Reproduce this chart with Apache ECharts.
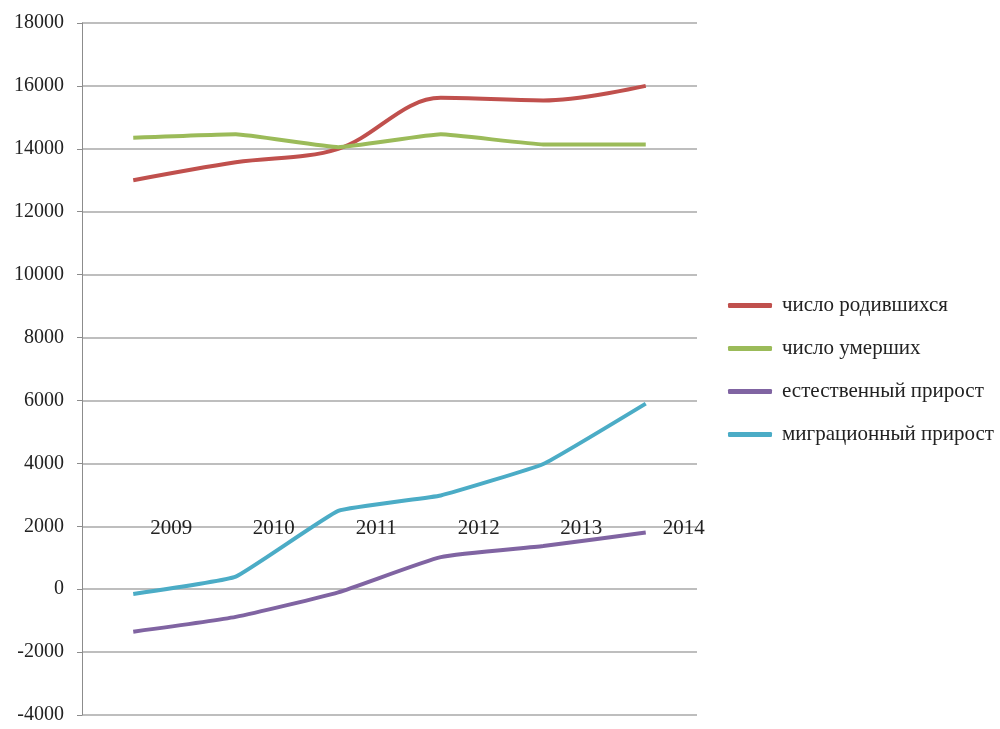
<!DOCTYPE html>
<html>
<head>
<meta charset="utf-8">
<script src="https://cdn.jsdelivr.net/npm/echarts@6/dist/echarts.min.js"></script>
<style>
  html, body { margin: 0; padding: 0; background: #fff; }
  #chart { width: 1000px; height: 729px; }
</style>
</head>
<body>
<div id="chart"></div>
<script>
// years on the category axis
const years = ["2009", "2010", "2011", "2012", "2013", "2014"];

// series values
const births = [13000, 13570, 14000, 15620, 15540, 16000];
const deaths = [14350, 14460, 14050, 14460, 14140, 14140];
const naturalGrowth = [-1350, -880, -100, 1020, 1370, 1800];
const migrationGrowth = [-150, 400, 2490, 2980, 3980, 5900];

const seriesNames = [
  "число родившихся",
  "число умерших",
  "естественный прирост",
  "миграционный прирост",
];

const colors = ["#C0504D", "#9BBB59", "#8064A2", "#4BACC6"];

const font = "'Liberation Serif', 'Times New Roman', serif";

const chart = echarts.init(document.getElementById("chart"));

const option = {
  animation: false,
  backgroundColor: "#fff",
  color: colors,
  grid: { left: 82, right: 303, top: 23, bottom: 14, containLabel: false },
  xAxis: {
    type: "category",
    data: years,
    boundaryGap: true,
    position: "bottom",
    offset: -205,
    axisLine: { show: false },
    axisTick: { show: false },
    splitLine: { show: false },
    axisLabel: {
      margin: 8,
      fontFamily: font,
      fontSize: 21,
      color: "#222",
      padding: [0, 0, 0, 76],
    },
  },
  yAxis: {
    type: "value",
    min: -4000,
    max: 18000,
    interval: 2000,
    axisLine: { show: true, lineStyle: { color: "#8c8c8c", width: 1 } },
    axisTick: { show: true, length: 5, lineStyle: { color: "#8c8c8c" } },
    axisLabel: {
      margin: 18,
      fontFamily: font,
      fontSize: 20,
      color: "#222",
      formatter: (v) => String(v),
    },
    splitLine: {
      show: true,
      lineStyle: { color: "#a8a8a8", width: 1.5 },
    },
  },
  legend: {
    orient: "vertical",
    left: 723,
    top: 290,
    itemWidth: 44,
    itemHeight: 5,
    itemGap: 22,
    icon: "roundRect",
    textStyle: {
      fontFamily: font,
      fontSize: 21,
      color: "#222",
      padding: [0, 0, 0, 5],
    },
    data: seriesNames,
  },
  series: [
    { name: seriesNames[0], data: births, smooth: 0.35 },
    { name: seriesNames[1], data: deaths, smooth: 0.1 },
    { name: seriesNames[2], data: naturalGrowth, smooth: 0.15 },
    { name: seriesNames[3], data: migrationGrowth, smooth: 0.1 },
  ].map((s, i) => ({
    ...s,
    type: "line",
    showSymbol: false,
    symbol: "none",
    lineStyle: { width: 4, color: colors[i] },
    itemStyle: { color: colors[i] },
  })),
};

chart.setOption(option);
</script>
</body>
</html>
